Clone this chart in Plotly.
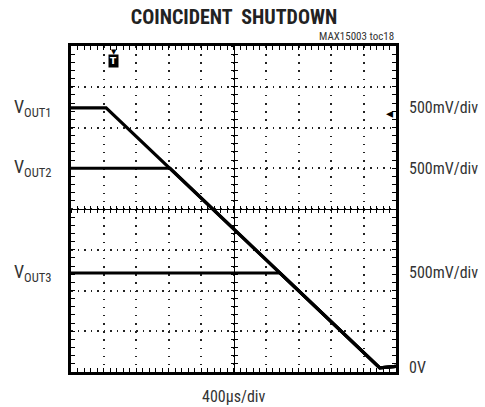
import plotly.graph_objects as go

# Time axis in divisions (400 us/div), vertical in screen divisions (500 mV/div)
vout1_t = [0.0, 1.08, 9.50, 10.0]
vout1_v = [6.48, 6.48, 0.10, 0.14]
vout2_t = [0.0, 3.05, 9.50, 10.0]
vout2_v = [5.00, 5.00, 0.10, 0.14]
vout3_t = [0.0, 6.43, 9.50, 10.0]
vout3_v = [2.43, 2.43, 0.10, 0.14]

left_labels = ["V<sub>OUT1</sub>", "V<sub>OUT2</sub>", "V<sub>OUT3</sub>"]
left_levels = [6.48, 5.00, 2.43]
right_labels = ["500mV/div", "500mV/div", "500mV/div", "0V"]
right_levels = [6.48, 5.00, 2.43, 0.10]
trigger_t = 1.32

NARROW = "Liberation Sans Narrow, Roboto Condensed, DejaVu Sans Condensed, Arial Narrow, sans-serif"

fig = go.Figure()
for t, v in [(vout1_t, vout1_v), (vout2_t, vout2_v), (vout3_t, vout3_v)]:
    fig.add_trace(go.Scatter(x=t, y=v, mode="lines",
                             line=dict(color="black", width=3.2),
                             showlegend=False, hoverinfo="skip"))

# invisible traces to bind the crosshair axes
for xa, ya in [("x2", "y"), ("x3", "y"), ("x", "y2"), ("x", "y3")]:
    fig.add_trace(go.Scatter(x=[None], y=[None], xaxis=xa, yaxis=ya,
                             showlegend=False, hoverinfo="skip"))

frame = dict(showline=True, linewidth=3, linecolor="black", mirror="ticks",
             ticks="inside", ticklen=4, tickwidth=1.2, tickcolor="black",
             showticklabels=False, zeroline=False, fixedrange=True,
             minor=dict(ticks="inside", ticklen=4, tickwidth=1.2,
                        tickcolor="black", dtick=0.2, showgrid=False))

fig.update_layout(
    width=485, height=407,
    margin=dict(l=71, r=89, t=46, b=35),
    paper_bgcolor="white", plot_bgcolor="white",
    xaxis=dict(range=[0, 10], dtick=1, tick0=0, showgrid=True,
               gridcolor="#222", gridwidth=1.5, griddash="1.5px,6.65px", **frame),
    yaxis=dict(range=[0, 8], dtick=1, tick0=0, showgrid=True,
               gridcolor="#222", gridwidth=1.5, griddash="1.5px,5px", **frame),
)

cross = dict(showline=True, linewidth=1, linecolor="black", showgrid=False,
             zeroline=False, showticklabels=False, dtick=0.2, tick0=0,
             ticklen=3, tickwidth=1.2, tickcolor="black", fixedrange=True)
fig.update_layout(
    xaxis2=dict(range=[0, 10], overlaying="x", anchor="free", position=0.5,
                ticks="inside", **cross),
    xaxis3=dict(range=[0, 10], overlaying="x", anchor="free", position=0.5,
                ticks="outside", **cross),
    yaxis2=dict(range=[0, 8], overlaying="y", anchor="free", position=0.5,
                ticks="inside", **cross),
    yaxis3=dict(range=[0, 8], overlaying="y", anchor="free", position=0.5,
                ticks="outside", **cross),
)

fig.update_layout(title=dict(text="<b>COINCIDENT  SHUTDOWN</b>", x=234 / 485,
                             xanchor="center", y=1 - 17 / 407, yanchor="middle",
                             font=dict(family=NARROW, size=20, color="#222")))

annotations = [
    dict(text="MAX15003 toc18", x=1.0, xref="paper", xanchor="right",
         y=1.0, yref="paper", yanchor="bottom", yshift=1, showarrow=False,
         font=dict(family=NARROW, size=11, color="#333")),
    dict(text="400\u03bcs/div", x=0.5, xref="paper", xanchor="center",
         y=0, yref="paper", yanchor="top", yshift=-13, showarrow=False,
         font=dict(family=NARROW, size=16, color="#333")),
    dict(text="\u25bc", x=trigger_t, xref="x", y=1.0, yref="paper",
         yanchor="top", yshift=0, showarrow=False,
         font=dict(family="DejaVu Sans", size=7, color="black")),
    dict(text="<b>T</b>", x=trigger_t, xref="x", y=1.0, yref="paper",
         yanchor="top", yshift=-8, showarrow=False, bgcolor="black",
         borderpad=1, font=dict(family="DejaVu Sans", size=9, color="white")),
    dict(text="\u25c2", x=1.0, xref="paper", xanchor="right", xshift=-1,
         y=6.36, yref="y", showarrow=False,
         font=dict(family="DejaVu Sans", size=14, color="black")),
]
for lab, lev in zip(left_labels, left_levels):
    annotations.append(dict(text=lab, x=0, xref="paper", xanchor="right",
                            xshift=-17, y=lev, yref="y", yanchor="middle",
                            showarrow=False,
                            font=dict(family=NARROW, size=18, color="#333")))
for lab, lev in zip(right_labels, right_levels):
    annotations.append(dict(text=lab, x=1, xref="paper", xanchor="left",
                            xshift=11, y=lev, yref="y", yanchor="middle",
                            showarrow=False,
                            font=dict(family=NARROW, size=16, color="#333")))
fig.update_layout(annotations=annotations)

fig.write_html("out.html", config={"displayModeBar": False},
               post_script="document.body.style.margin='0';document.body.style.padding='0';")
